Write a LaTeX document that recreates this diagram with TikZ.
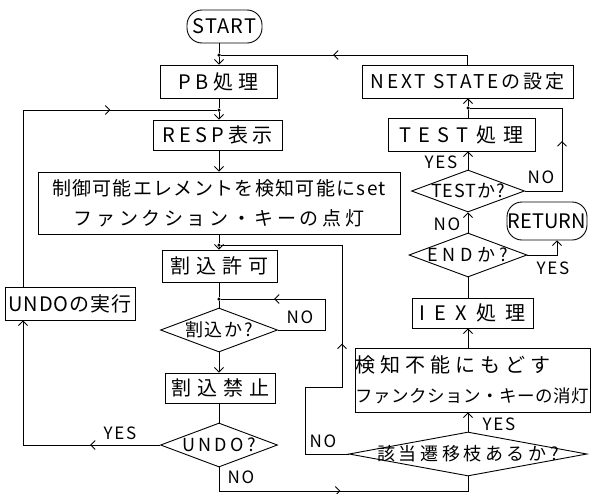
\documentclass[tikz,border=0pt]{standalone}
\usepackage{fontspec}
\setmainfont{Noto Sans CJK JP}
\usetikzlibrary{shapes.geometric,arrows.meta,decorations.markings}
\newcommand\jf[3]{\fontsize{#1pt}{#3pt}\selectfont\addfontfeatures{LetterSpace=#2}}
\begin{document}
\begin{tikzpicture}[x=1pt,y=-1pt,
  line width=0.9pt,
  box/.style={draw, rectangle, inner sep=0pt, align=center},
  term/.style={draw, rectangle, rounded corners=15pt, inner sep=0pt},
  dia/.style={draw, diamond, inner sep=0pt},
  arr/.style={-{Straight Barb[length=4.5pt,width=9pt]}},
  marr/.style={postaction={decorate},decoration={markings,mark=at position #1 with {\arrow{Straight Barb[length=4.5pt,width=9pt]}}}},
  lbl/.style={font=\jf{17}{10}{17}, inner sep=0pt},
  jdot/.style={circle, fill, inner sep=0pt, minimum size=3.5pt}
]
\useasboundingbox (0,0) rectangle (597,493);

% left column
\node[term, minimum width=75pt, minimum height=33pt, font=\jf{20}{5}{20}] (start) at (224.5,26.5) {START};
\node[jdot] (jA) at (219,55) {};
\node[box, minimum width=117pt, minimum height=33pt, font=\jf{20}{25}{20}] (pb) at (218.5,81.5) {PB処理};
\node[jdot] (jB) at (219,110) {};
\node[box, minimum width=129pt, minimum height=30pt, font=\jf{20}{20}{20}] (resp) at (217.5,135) {RESP表示};
\node[box, minimum width=362pt, minimum height=62pt, font=\jf{19}{0}{30}] (big) at (219,203)
  {{\addfontfeatures{LetterSpace=7}制御可能エレメントを検知可能にset}\\{\addfontfeatures{LetterSpace=19}ファンクション・キーの点灯}};
\node[jdot] (jC) at (219,245) {};
\node[box, minimum width=115pt, minimum height=32pt, font=\jf{20}{30}{20}] (kyoka) at (219.5,266) {割込許可};
\node[jdot] (jD) at (219,299) {};
\node[dia, minimum width=117pt, minimum height=44pt, label={[font=\jf{18}{10}{18}]center:割込か?}] (d1) at (219,330) {};
\node[box, minimum width=110pt, minimum height=30pt, font=\jf{20}{30}{20}] (kinshi) at (220,388) {割込禁止};
\node[dia, minimum width=117pt, minimum height=44pt, label={[font=\jf{18}{19}{18}]center:UNDO?}] (d2) at (219,445) {};
\node[box, minimum width=130pt, minimum height=33pt, font=\jf{20}{5}{20}] (undo) at (70,303.5) {UNDOの実行};

% right column
\node[box, minimum width=211pt, minimum height=33pt, font=\jf{19}{15}{19}] (next) at (467.5,81.5) {NEXT STATEの設定};
\node[jdot] (jE) at (468,108) {};
\node[box, minimum width=147pt, minimum height=33pt, font=\jf{20}{37}{20}] (test) at (461.5,134.5) {TEST処理};
\node[dia, minimum width=113pt, minimum height=42pt, label={[font=\jf{18}{5}{18}]center:TESTか?}] (d5) at (468,191) {};
\node[term, minimum width=80pt, minimum height=38pt, font=\jf{20}{0}{20}] (ret) at (547,221) {RETURN};
\node[dia, minimum width=118pt, minimum height=44pt, label={[font=\jf{18}{25}{18}]center:ENDか?}] (d4) at (468,255) {};
\node[box, minimum width=121pt, minimum height=30pt, font=\jf{20}{45}{20}] (iex) at (472.5,313) {IEX処理};
\node[box, minimum width=235pt, minimum height=64pt, align=left, font=\jf{20}{0}{30}] (kenchi) at (472.5,380)
  {{\addfontfeatures{LetterSpace=25}検知不能にもどす}\\{\fontsize{17.5pt}{30pt}\selectfont\addfontfeatures{LetterSpace=3}ファンクション・キーの消灯}};
\node[dia, minimum width=238pt, minimum height=44pt, label={[font=\jf{18}{20}{18}]center:該当遷移枝あるか?}] (d3) at (468,454) {};

% helper corners
\coordinate (lb) at (23,445);
\coordinate (r1) at (325,330);
\coordinate (b1) at (219,491);
\coordinate (q1) at (305,387);
\coordinate (q2) at (342,387);
\coordinate (r2) at (557,255);
\coordinate (r3) at (562,191);

% connectors, left column
\draw[arr] (jA |- start.south) -- (jA) -- (jA |- pb.north);
\draw[marr=144pt] (next.north) -- (next.north |- jA) -- (jA);
\draw[arr] (jB |- pb.south) -- (jB) -- (jB |- resp.north);
\draw[arr] (jB |- resp.south) -- (jB |- big.north);
\draw[arr] (jC |- big.south) -- (jC) -- (jC |- kyoka.north);
\draw (jD |- kyoka.south) -- (jD) -- (d1.north);
\draw[arr] (d1.south) -- (d1.south |- kinshi.north);
\draw (d1.south |- kinshi.south) -- (d2.north);
\draw[arr, marr=70pt] (d2.west) -- (lb) -- (lb |- undo.south);
\draw[marr=264pt] (lb |- undo.north) -- (lb |- jB) -- (jB);
\draw[marr=129pt] (d1.east) -- (r1) -- (r1 |- jD) -- (jD);
\draw[marr=145pt] (d2.south) -- (d2.south |- b1) -- (d3.south |- b1) -- (d3.south);
\draw[marr=191pt] (d3.west) -- (d3.west -| q1) -- (q1) -- (q2) -- (q2 |- jC) -- (jC);

% connectors, right column
\draw[arr] (d3.north) -- (d3.north |- kenchi.south);
\draw[arr] (d3 |- kenchi.north) -- (d3 |- iex.south);
\draw (d4 |- iex.north) -- (d4.south);
\draw[arr] (d4.east) -- (r2) -- (r2 |- ret.south);
\draw[arr] (d4.north) -- (d5.south);
\draw[arr] (d5.north) -- (d5.north |- test.south);
\draw[marr=87pt] (d5.east) -- (r3) -- (r3 |- jE) -- (jE);
\draw[arr] (jE |- test.north) -- (jE) -- (jE |- next.south);

% labels
\node[lbl] at (120,433) {YES};
\node[lbl] at (300,317) {NO};
\node[lbl] at (241,477) {NO};
\node[lbl] at (323,441) {NO};
\node[lbl] at (499,424) {YES};
\node[lbl] at (553,268) {YES};
\node[lbl] at (447,224) {NO};
\node[lbl] at (441,162) {YES};
\node[lbl] at (541,177) {NO};
\end{tikzpicture}
\end{document}
